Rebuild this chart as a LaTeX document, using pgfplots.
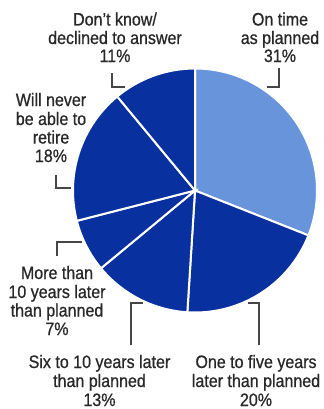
\documentclass[border=0pt]{standalone}
\usepackage{fontspec}
\setmainfont{Liberation Sans}[FakeStretch=0.89, FakeBold=0.7]
\usepackage{pgfplots}
\pgfplotsset{compat=1.18}
\definecolor{lightb}{RGB}{104,148,220}
\definecolor{darkb}{RGB}{8,48,158}
\definecolor{txt}{RGB}{40,40,40}
\definecolor{lead}{RGB}{70,70,70}
\begin{document}
\begin{tikzpicture}
\begin{axis}[
  width=323bp, height=409bp, scale only axis,
  xmin=0, xmax=323, ymin=0, ymax=409, y dir=reverse,
  hide axis, clip=false,
]
\fill[white] (axis cs:0,0) rectangle (axis cs:323,409);
% slices: values 31,20,13,7,18,11 (percent), clockwise from top
\filldraw[fill=lightb, draw=white, line width=2bp] (axis cs:195,190.5) -- ++(90:122bp) arc[start angle=90, end angle=-21.6, radius=122bp] -- cycle;
\filldraw[fill=darkb, draw=white, line width=2bp] (axis cs:195,190.5) -- ++(-21.6:122bp) arc[start angle=-21.6, end angle=-93.6, radius=122bp] -- cycle;
\filldraw[fill=darkb, draw=white, line width=2bp] (axis cs:195,190.5) -- ++(-93.6:122bp) arc[start angle=-93.6, end angle=-140.4, radius=122bp] -- cycle;
\filldraw[fill=darkb, draw=white, line width=2bp] (axis cs:195,190.5) -- ++(-140.4:122bp) arc[start angle=-140.4, end angle=-165.6, radius=122bp] -- cycle;
\filldraw[fill=darkb, draw=white, line width=2bp] (axis cs:195,190.5) -- ++(-165.6:122bp) arc[start angle=-165.6, end angle=-230.4, radius=122bp] -- cycle;
\filldraw[fill=darkb, draw=white, line width=2bp] (axis cs:195,190.5) -- ++(-230.4:122bp) arc[start angle=-230.4, end angle=-270, radius=122bp] -- cycle;
% leader lines
\draw[lead, line width=1.3bp] (axis cs:279,68) -- (axis cs:279,87) -- (axis cs:267,87);
\draw[lead, line width=1.3bp] (axis cs:112,73) -- (axis cs:112,87) -- (axis cs:125,87);
\draw[lead, line width=1.3bp] (axis cs:56,175) -- (axis cs:56,188) -- (axis cs:71,188);
\draw[lead, line width=1.3bp] (axis cs:57,256) -- (axis cs:57,242) -- (axis cs:82,242);
\draw[lead, line width=1.3bp] (axis cs:131,345) -- (axis cs:131,303) -- (axis cs:143,303);
\draw[lead, line width=1.3bp] (axis cs:259,345) -- (axis cs:259,303) -- (axis cs:248,303);
% labels
\tikzset{lbl/.style={anchor=base, inner sep=0pt, text=txt, font=\fontsize{18bp}{18bp}\selectfont}}
\node[lbl] at (axis cs:115,25.5) {Don’t know/};
\node[lbl] at (axis cs:115,44) {declined to answer};
\node[lbl] at (axis cs:115,62) {11\%};
\node[lbl] at (axis cs:280,25.5) {On time};
\node[lbl] at (axis cs:280,44) {as planned};
\node[lbl] at (axis cs:280,62) {31\%};
\node[lbl] at (axis cs:51,106) {Will never};
\node[lbl] at (axis cs:51,125) {be able to};
\node[lbl] at (axis cs:51,143.5) {retire};
\node[lbl] at (axis cs:51,162) {18\%};
\node[lbl] at (axis cs:57,279) {More than};
\node[lbl] at (axis cs:57,298) {10 years later};
\node[lbl] at (axis cs:57,316.5) {than planned};
\node[lbl] at (axis cs:57,335) {7\%};
\node[lbl] at (axis cs:99.5,368) {Six to 10 years later};
\node[lbl] at (axis cs:99.5,387) {than planned};
\node[lbl] at (axis cs:99.5,406) {13\%};
\node[lbl] at (axis cs:256,368) {One to five years};
\node[lbl] at (axis cs:256,387) {later than planned};
\node[lbl] at (axis cs:256,406) {20\%};
\end{axis}
\end{tikzpicture}
\end{document}
